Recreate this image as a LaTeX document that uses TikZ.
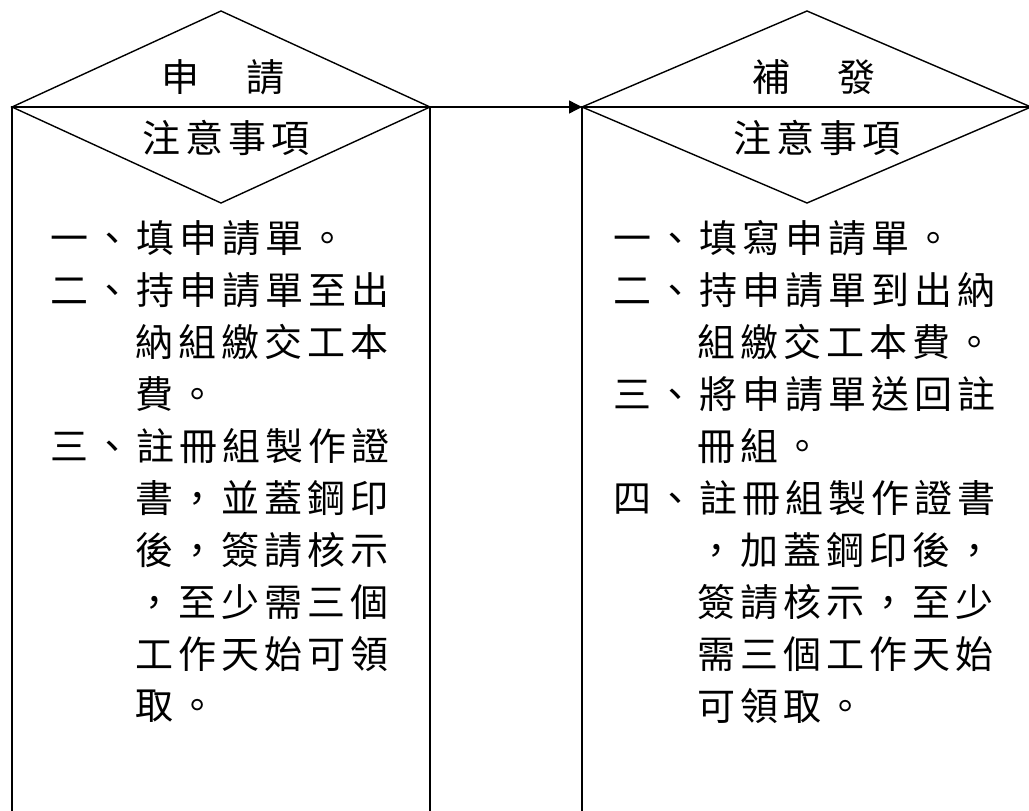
\documentclass[tikz,border=0pt]{standalone}
\usepackage{fontspec}
\newfontfamily\cjk[LetterSpace=13]{Noto Sans CJK TC}
\usetikzlibrary{arrows.meta}
\begin{document}
\begin{tikzpicture}[x=1pt,y=-1pt,
	line width=1.4pt,
	txt/.style={inner sep=0pt,font=\cjk\fontsize{38}{44}\selectfont},
	item/.style={txt,anchor=west}]
\useasboundingbox (0,0) rectangle (1029,811);
% corners of the two boxes
\coordinate (aL) at (12,107);
\coordinate (aR) at (430,107);
\coordinate (aT) at (221,11);
\coordinate (aB) at (221,203);
\coordinate (bL) at (582,107);
\coordinate (bR) at (1031,107);
\coordinate (bT) at (807,11);
\coordinate (bB) at (807,203);
\draw (aL |- 0,820) -- (aL) -- (aR) -- (aR |- 0,820);
\draw (aL) -- (aT) -- (aR) -- (aB) -- cycle;
\draw (bL |- 0,820) -- (bL) -- (bR) -- (bR |- 0,820);
\draw (bL) -- (bT) -- (bR) -- (bB) -- cycle;
\draw[-{Triangle[length=13pt,width=13pt]}] (aR) -- (bL);
% titles
\node[txt] (applyTitle) at (223,77) {申　請};
\node[txt] (applyNote) at (226,138) {注意事項};
\node[txt] (reissueTitle) at (814,77) {補　發};
\node[txt] (reissueNote) at (817,138) {注意事項};
% apply items
\node[item] (apply1) at (50,238) {一、填申請單。};
\node[item] (apply2) at (50,290) {二、持申請單至出};
\node[item] (apply2b) at (135,342) {納組繳交工本};
\node[item] (apply2c) at (135,394) {費。};
\node[item] (apply3) at (50,446) {三、註冊組製作證};
\node[item] (apply3b) at (135,498) {書，並蓋鋼印};
\node[item] (apply3c) at (135,550) {後，簽請核示};
\node[item] (apply3d) at (135,602) {，至少需三個};
\node[item] (apply3e) at (135,654) {工作天始可領};
\node[item] (apply3f) at (135,706) {取。};
% reissue items
\node[item] (reissue1) at (613,238) {一、填寫申請單。};
\node[item] (reissue2) at (613,290) {二、持申請單到出納};
\node[item] (reissue2b) at (697,342) {組繳交工本費。};
\node[item] (reissue3) at (613,394) {三、將申請單送回註};
\node[item] (reissue3b) at (697,446) {冊組。};
\node[item] (reissue4) at (613,498) {四、註冊組製作證書};
\node[item] (reissue4b) at (697,550) {，加蓋鋼印後，};
\node[item] (reissue4c) at (697,602) {簽請核示，至少};
\node[item] (reissue4d) at (697,654) {需三個工作天始};
\node[item] (reissue4e) at (697,706) {可領取。};
\end{tikzpicture}
\end{document}
